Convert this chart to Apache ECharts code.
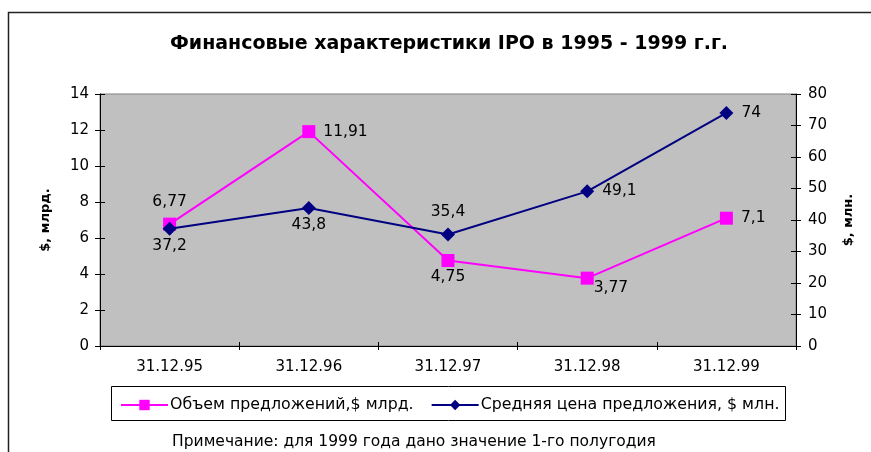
<!DOCTYPE html>
<html><head><meta charset="utf-8">
<script src="https://cdn.jsdelivr.net/npm/echarts@6/dist/echarts.min.js"></script>
<style>html,body{margin:0;padding:0;background:#fff}#c{width:871px;height:452px}</style>
</head><body><div id="c"></div>
<script>
var categories = ['31.12.95', '31.12.96', '31.12.97', '31.12.98', '31.12.99'];
var volume = [6.77, 11.91, 4.75, 3.77, 7.1];
var avgPrice = [37.2, 43.8, 35.4, 49.1, 74];
var volumeLabelPos = ['top', 'right', 'bottom', 'bottomRight', 'right'];
var priceLabelPos = ['bottom', 'bottom', 'top', 'right', 'right'];

var F = '"DejaVu Sans", Arial, sans-serif';
function fmt(v) { return String(v).replace('.', ','); }
var dist = { top: 8, bottom: 2, right: 8 };
function labelFor(pos) {
  var base = { show: true, color: '#000', fontSize: 15.5, fontFamily: F,
    formatter: function (p) { return fmt(p.value); } };
  if (pos === 'bottomRight') { base.position = 'right'; base.distance = 8; base.offset = [-8, 10]; }
  else { base.position = pos; base.distance = dist[pos]; }
  return base;
}
var volData = volume.map(function (v, i) { return { value: v, label: labelFor(volumeLabelPos[i]) }; });
var priceData = avgPrice.map(function (v, i) { return { value: v, label: labelFor(priceLabelPos[i]) }; });

var chart = echarts.init(document.getElementById('c'));
var axisLbl = { color: '#000', fontSize: 15, fontFamily: F };
chart.setOption({
  animation: false,
  backgroundColor: '#fff',
  title: [{
    text: 'Финансовые характеристики IPO в 1995 - 1999 г.г.',
    left: 444, top: 30, textAlign: 'center',
    textStyle: { fontSize: 19, fontWeight: 'bold', fontFamily: F, color: '#000' }
  }, {
    text: 'Примечание: для 1999 года дано значение 1-го полугодия',
    left: 409, top: 429, textAlign: 'center',
    textStyle: { fontSize: 15.5, fontWeight: 'normal', fontFamily: F, color: '#000' }
  }],
  graphic: [{
    type: 'rect', silent: true, z: -1,
    shape: { x: 8.5, y: 12.5, width: 900, height: 500 },
    style: { fill: 'none', stroke: '#222', lineWidth: 1.5 }
  }, {
    type: 'rect', silent: true, z: 0,
    shape: { x: 111.5, y: 386.5, width: 674, height: 34 },
    style: { fill: '#fff', stroke: '#000', lineWidth: 1 }
  }],
  grid: { left: 100, right: 75, top: 94, bottom: 106, show: true,
    backgroundColor: '#C0C0C0', borderColor: '#808080', borderWidth: 1 },
  legend: {
    left: 120, top: 397, padding: 0, itemGap: 17, z: 5,
    itemWidth: 47, itemHeight: 13,
    textStyle: { fontSize: 15.8, fontFamily: F, color: '#000', padding: [0, 0, 0, -3] },
    data: ['Объем предложений,$ млрд.', 'Средняя цена предложения, $ млн.']
  },
  xAxis: [{
    type: 'category', data: categories, boundaryGap: true,
    axisLine: { lineStyle: { color: '#000', width: 1 } },
    axisTick: { show: true, length: 4, lineStyle: { color: '#000' } },
    axisLabel: Object.assign({ margin: 14 }, axisLbl)
  }, {
    type: 'category', data: categories, boundaryGap: true, position: 'bottom',
    axisLine: { show: false },
    axisTick: { show: true, inside: true, length: 4, lineStyle: { color: '#000' } },
    axisLabel: { show: false }
  }],
  yAxis: [{
    type: 'value', min: 0, max: 14, interval: 2, position: 'left',
    name: '$, млрд.', nameLocation: 'middle', nameRotate: 90, nameGap: 48,
    nameTextStyle: { fontSize: 13, fontWeight: 'bold', fontFamily: F, color: '#000' },
    axisLine: { show: true, lineStyle: { color: '#000' } },
    axisTick: { show: true, length: 5, lineStyle: { color: '#000' } },
    splitLine: { show: false },
    axisLabel: Object.assign({ margin: 11 }, axisLbl)
  }, {
    type: 'value', min: 0, max: 80, interval: 10, position: 'right',
    name: '$, млн.', nameLocation: 'middle', nameRotate: 90, nameGap: 46,
    nameTextStyle: { fontSize: 13, fontWeight: 'bold', fontFamily: F, color: '#000' },
    axisLine: { show: true, lineStyle: { color: '#000' } },
    axisTick: { show: true, length: 5, lineStyle: { color: '#000' } },
    splitLine: { show: false },
    axisLabel: Object.assign({ margin: 12 }, axisLbl)
  }, {
    type: 'value', min: 0, max: 14, interval: 2, position: 'left',
    axisLine: { show: false },
    axisTick: { show: true, inside: true, length: 5, lineStyle: { color: '#000' } },
    splitLine: { show: false }, axisLabel: { show: false }
  }, {
    type: 'value', min: 0, max: 80, interval: 10, position: 'right',
    axisLine: { show: false },
    axisTick: { show: true, inside: true, length: 5, lineStyle: { color: '#000' } },
    splitLine: { show: false }, axisLabel: { show: false }
  }],
  series: [{
    name: 'Объем предложений,$ млрд.', type: 'line', yAxisIndex: 0,
    data: volData, symbol: 'rect', symbolSize: 13,
    lineStyle: { color: '#FF00FF', width: 2 },
    itemStyle: { color: '#FF00FF' }, z: 3
  }, {
    name: 'Средняя цена предложения, $ млн.', type: 'line', yAxisIndex: 1,
    data: priceData, symbol: 'diamond', symbolSize: [14, 14],
    lineStyle: { color: '#000080', width: 2 },
    itemStyle: { color: '#000080' }, z: 4
  }]
});
</script></body></html>
